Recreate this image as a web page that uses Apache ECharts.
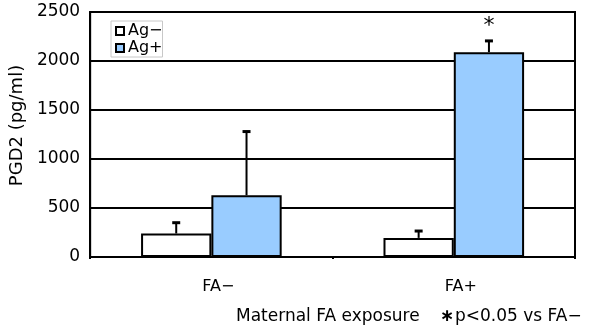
<!DOCTYPE html>
<html>
<head>
<meta charset="utf-8">
<script src="https://cdn.jsdelivr.net/npm/echarts@6/dist/echarts.min.js"></script>
<style>html,body{margin:0;padding:0;background:#fff}#c{width:597px;height:331px}</style>
</head>
<body>
<div id="c"></div>
<script>
var categories = ['FA\u2212', 'FA+'];
var seriesNames = ['Ag\u2212', 'Ag+'];
var agMinus = [240, 195];
var agPlus = [630, 2090];
var agMinusErr = [110, 70];
var agPlusErr = [650, 115];
var agPlusSig = [false, true];
var yTicks = [0, 500, 1000, 1500, 2000, 2500];
var footerLeft = 'Maternal FA exposure';
var footerStar = '\u2217';
var footerRight = 'p<0.05 vs FA\u2212';

var FONT = '"DejaVu Sans", sans-serif';
var GAP = 0.42;

function errRender(values, errs, sig, side) {
  return function (params, api) {
    var idx = api.value(0);
    var band = api.size([1, 0])[0];
    var bw = band * (1 - GAP) / 2;
    var base = api.coord([idx, values[idx]]);
    var top = api.coord([idx, values[idx] + errs[idx]]);
    var x = base[0] + side * bw / 2;
    var cap = 8;
    var children = [
      {type: 'line', shape: {x1: x, y1: base[1], x2: x, y2: top[1]}, style: {stroke: '#000', lineWidth: 2}},
      {type: 'line', shape: {x1: x - cap / 2, y1: top[1], x2: x + cap / 2, y2: top[1]}, style: {stroke: '#000', lineWidth: 3}}
    ];
    if (sig && sig[idx]) {
      children.push({type: 'text', style: {text: '*', x: x, y: top[1] - 4, align: 'center', verticalAlign: 'bottom', font: '22px ' + FONT, fill: '#000'}});
    }
    return {type: 'group', children: children};
  };
}

var chart = echarts.init(document.getElementById('c'), null, {renderer: 'canvas'});
chart.setOption({
  animation: false,
  backgroundColor: '#fff',
  textStyle: {fontFamily: FONT},
  grid: {left: 89, right: 22, top: 12, bottom: 74, show: true, borderColor: '#000', borderWidth: 2, backgroundColor: 'transparent'},
  legend: {
    left: 111, top: 21, orient: 'vertical',
    data: seriesNames,
    itemWidth: 8, itemHeight: 8, itemGap: 1,
    padding: [2, 0, 1, 4],
    borderColor: '#c8c8c8', borderWidth: 1,
    textStyle: {fontSize: 16, color: '#000', fontFamily: FONT, padding: [0, 0, 0, -1]},
    icon: 'rect'
  },
  xAxis: {
    type: 'category', data: categories,
    axisLine: {lineStyle: {color: '#000', width: 2}},
    axisTick: {show: true, length: 2, lineStyle: {color: '#000', width: 2}},
    axisLabel: {color: '#000', fontSize: 16, margin: 22, fontFamily: FONT, padding: [0, 0, 0, 14]}
  },
  yAxis: {
    type: 'value', min: yTicks[0], max: yTicks[yTicks.length - 1], interval: 500,
    name: 'PGD2 (pg/ml)', nameLocation: 'middle', nameGap: 62, nameRotate: 90,
    nameTextStyle: {color: '#000', fontSize: 18, fontFamily: FONT, padding: [0, 0, 0, 18]},
    axisLine: {show: true, lineStyle: {color: '#000', width: 2}},
    axisTick: {show: false},
    axisLabel: {color: '#000', fontSize: 17, margin: 10, fontFamily: FONT, formatter: function (v) { return String(v); }},
    splitLine: {show: true, lineStyle: {color: '#000', width: 2}}
  },
  series: [
    {name: seriesNames[0], type: 'bar', data: agMinus, barGap: '0%', barCategoryGap: (GAP * 100) + '%',
     itemStyle: {color: '#ffffff', borderColor: '#000', borderWidth: 2}},
    {name: seriesNames[1], type: 'bar', data: agPlus, barGap: '0%', barCategoryGap: (GAP * 100) + '%',
     itemStyle: {color: '#99ccff', borderColor: '#000', borderWidth: 2}},
    {type: 'custom', data: categories.map(function (c, i) { return [i]; }), renderItem: errRender(agMinus, agMinusErr, null, -1), z: 5},
    {type: 'custom', data: categories.map(function (c, i) { return [i]; }), renderItem: errRender(agPlus, agPlusErr, agPlusSig, 1), z: 5}
  ],
  graphic: [
    {type: 'text', left: 236, top: 308, style: {text: footerLeft, font: '17px ' + FONT, fill: '#000'}},
    {type: 'text', left: 440, top: 308, style: {text: footerStar, font: 'bold 17px ' + FONT, fill: '#000'}},
    {type: 'text', left: 455, top: 308, style: {text: footerRight, font: '17px ' + FONT, fill: '#000'}}
  ]
});
</script>
</body>
</html>
